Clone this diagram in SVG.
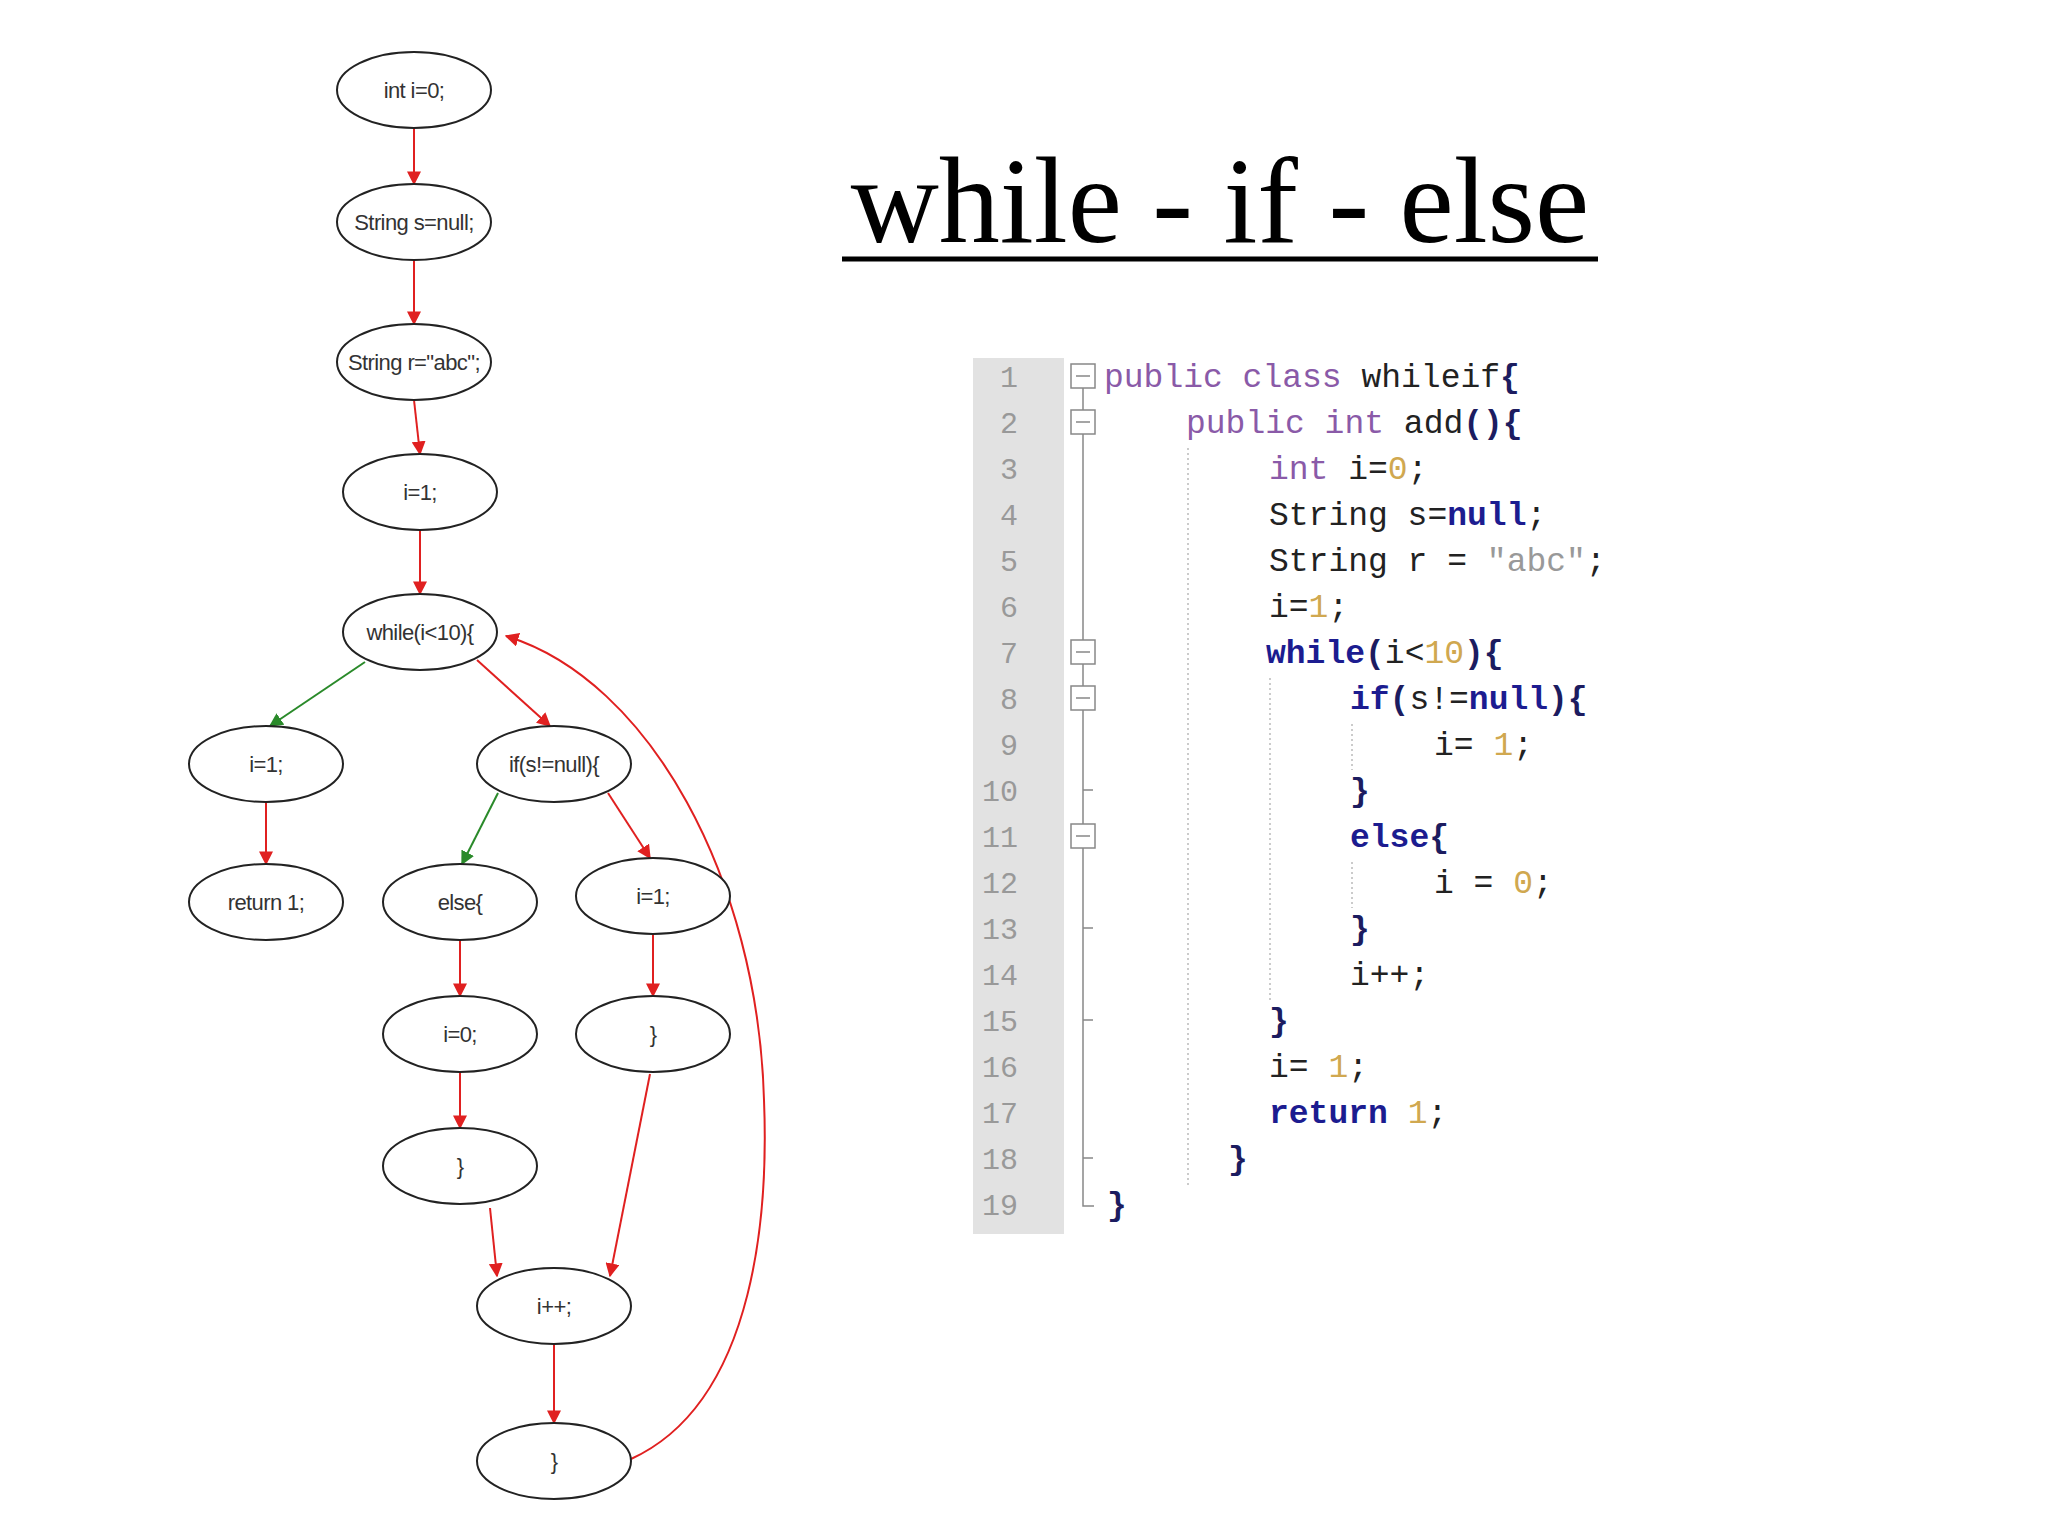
<svg xmlns="http://www.w3.org/2000/svg" width="2048" height="1536" viewBox="0 0 2048 1536">
<defs>
<marker id="ar" viewBox="0 0 10 10" refX="9" refY="5" markerWidth="14" markerHeight="14" markerUnits="userSpaceOnUse" orient="auto"><path d="M0,0 L10,5 L0,10 z" fill="#e02020"/></marker>
<marker id="ag" viewBox="0 0 10 10" refX="9" refY="5" markerWidth="14" markerHeight="14" markerUnits="userSpaceOnUse" orient="auto"><path d="M0,0 L10,5 L0,10 z" fill="#2a8a2a"/></marker>
<style>
.n ellipse{fill:#fff;stroke:#222;stroke-width:2}
.n text{font-family:"Liberation Sans",Arial,sans-serif;font-size:22px;fill:#333;text-anchor:middle;letter-spacing:-0.6px}
.r{stroke:#e02020;stroke-width:2;fill:none;marker-end:url(#ar)}
.g{stroke:#2a8a2a;stroke-width:2;fill:none;marker-end:url(#ag)}
.c{font-family:"Liberation Mono","Courier New",monospace;font-size:33px;fill:#222}
.ln{font-family:"Liberation Mono","Courier New",monospace;font-size:30px;fill:#999;text-anchor:end}
.kp{fill:#8a5aa8}
.kb{fill:#1c1c90;font-weight:bold}
.num{fill:#d0a850}
.str{fill:#999}
.b{font-weight:bold;fill:#1c1c60}
.fold{fill:#fff;stroke:#888;stroke-width:1.5}
.guide{stroke:#bbb;stroke-width:1.5;stroke-dasharray:2,3}
</style>
</defs>
<rect width="2048" height="1536" fill="#fff"/>
<text x="1220" y="242" font-family="'Liberation Serif','Times New Roman',serif" font-size="122" text-anchor="middle" fill="#000">while - if - else</text>
<line x1="842" y1="259" x2="1598" y2="259" stroke="#000" stroke-width="5"/>

<g id="edges">
<path class="r" d="M414,128 L414,184"/>
<path class="r" d="M414,260 L414,324"/>
<path class="r" d="M414,400 L420,454"/>
<path class="r" d="M420,530 L420,594"/>
<path class="g" d="M365,662 L270,726"/>
<path class="r" d="M477,660 L550,726"/>
<path class="g" d="M498,793 L462,864"/>
<path class="r" d="M608,793 L650,858"/>
<path class="r" d="M266,802 L266,864"/>
<path class="r" d="M460,940 L460,996"/>
<path class="r" d="M653,934 L653,996"/>
<path class="r" d="M460,1072 L460,1128"/>
<path class="r" d="M490,1208 L497,1276"/>
<path class="r" d="M650,1074 L610,1276"/>
<path class="r" d="M554,1344 L554,1423"/>
<path class="r" d="M631,1459 C760,1400 768,1200 764,1100 C758,880 650,680 506,636"/>
</g>

<g id="n1" class="n"><ellipse cx="414" cy="90" rx="77" ry="38"/><text x="414" y="98">int i=0;</text></g>
<g id="n2" class="n"><ellipse cx="414" cy="222" rx="77" ry="38"/><text x="414" y="230">String s=null;</text></g>
<g id="n3" class="n"><ellipse cx="414" cy="362" rx="77" ry="38"/><text x="414" y="370">String r="abc";</text></g>
<g id="n4" class="n"><ellipse cx="420" cy="492" rx="77" ry="38"/><text x="420" y="500">i=1;</text></g>
<g id="n5" class="n"><ellipse cx="420" cy="632" rx="77" ry="38"/><text x="420" y="640">while(i&lt;10){</text></g>
<g id="n6" class="n"><ellipse cx="266" cy="764" rx="77" ry="38"/><text x="266" y="772">i=1;</text></g>
<g id="n7" class="n"><ellipse cx="554" cy="764" rx="77" ry="38"/><text x="554" y="772">if(s!=null){</text></g>
<g id="n8" class="n"><ellipse cx="266" cy="902" rx="77" ry="38"/><text x="266" y="910">return 1;</text></g>
<g id="n9" class="n"><ellipse cx="460" cy="902" rx="77" ry="38"/><text x="460" y="910">else{</text></g>
<g id="n10" class="n"><ellipse cx="653" cy="896" rx="77" ry="38"/><text x="653" y="904">i=1;</text></g>
<g id="n11" class="n"><ellipse cx="460" cy="1034" rx="77" ry="38"/><text x="460" y="1042">i=0;</text></g>
<g id="n12" class="n"><ellipse cx="653" cy="1034" rx="77" ry="38"/><text x="653" y="1042">}</text></g>
<g id="n13" class="n"><ellipse cx="460" cy="1166" rx="77" ry="38"/><text x="460" y="1174">}</text></g>
<g id="n14" class="n"><ellipse cx="554" cy="1306" rx="77" ry="38"/><text x="554" y="1314">i++;</text></g>
<g id="n15" class="n"><ellipse cx="554" cy="1461" rx="77" ry="38"/><text x="554" y="1469">}</text></g>

<g id="code">
<rect x="973" y="358" width="91" height="876" fill="#e2e2e2"/>
<g class="ln">
<text x="1018" y="387">1</text><text x="1018" y="433">2</text><text x="1018" y="479">3</text><text x="1018" y="525">4</text><text x="1018" y="571">5</text><text x="1018" y="617">6</text><text x="1018" y="663">7</text><text x="1018" y="709">8</text><text x="1018" y="755">9</text><text x="1018" y="801">10</text><text x="1018" y="847">11</text><text x="1018" y="893">12</text><text x="1018" y="939">13</text><text x="1018" y="985">14</text><text x="1018" y="1031">15</text><text x="1018" y="1077">16</text><text x="1018" y="1123">17</text><text x="1018" y="1169">18</text><text x="1018" y="1215">19</text>
</g>
<path d="M1083,376 V1206 H1094 M1083,790 H1093 M1083,928 H1093 M1083,1020 H1093 M1083,1158 H1093" stroke="#888" stroke-width="1.5" fill="none"/>
<rect class="fold" x="1071" y="364" width="24" height="24"/><rect class="fold" x="1071" y="410" width="24" height="24"/><rect class="fold" x="1071" y="640" width="24" height="24"/><rect class="fold" x="1071" y="686" width="24" height="24"/><rect class="fold" x="1071" y="824" width="24" height="24"/>
<path d="M1076,376 H1090 M1076,422 H1090 M1076,652 H1090 M1076,698 H1090 M1076,836 H1090" stroke="#888" stroke-width="1.5"/>
<line class="guide" x1="1188" y1="448" x2="1188" y2="1186"/>
<line class="guide" x1="1270" y1="678" x2="1270" y2="1000"/>
<line class="guide" x1="1352" y1="724" x2="1352" y2="770"/>
<line class="guide" x1="1352" y1="862" x2="1352" y2="908"/>
<text class="c" x="1104" y="387"><tspan class="kp">public class</tspan> whileif<tspan class="b">{</tspan></text>
<text class="c" x="1186" y="433"><tspan class="kp">public int</tspan> add<tspan class="b">(){</tspan></text>
<text class="c" x="1269" y="479"><tspan class="kp">int</tspan> i=<tspan class="num">0</tspan>;</text>
<text class="c" x="1269" y="525">String s=<tspan class="kb">null</tspan>;</text>
<text class="c" x="1269" y="571">String r = <tspan class="str">"abc"</tspan>;</text>
<text class="c" x="1269" y="617">i=<tspan class="num">1</tspan>;</text>
<text class="c" x="1266" y="663"><tspan class="kb">while</tspan><tspan class="b">(</tspan>i&lt;<tspan class="num">10</tspan><tspan class="b">){</tspan></text>
<text class="c" x="1350" y="709"><tspan class="kb">if</tspan><tspan class="b">(</tspan>s!=<tspan class="kb">null</tspan><tspan class="b">){</tspan></text>
<text class="c" x="1434" y="755">i= <tspan class="num">1</tspan>;</text>
<text class="c b" x="1350" y="801">}</text>
<text class="c" x="1350" y="847"><tspan class="kb">else</tspan><tspan class="b">{</tspan></text>
<text class="c" x="1434" y="893">i = <tspan class="num">0</tspan>;</text>
<text class="c b" x="1350" y="939">}</text>
<text class="c" x="1350" y="985">i++;</text>
<text class="c b" x="1269" y="1031">}</text>
<text class="c" x="1269" y="1077">i= <tspan class="num">1</tspan>;</text>
<text class="c" x="1269" y="1123"><tspan class="kb">return</tspan> <tspan class="num">1</tspan>;</text>
<text class="c b" x="1228" y="1169">}</text>
<text class="c b" x="1107" y="1215">}</text>
</g>
</svg>
